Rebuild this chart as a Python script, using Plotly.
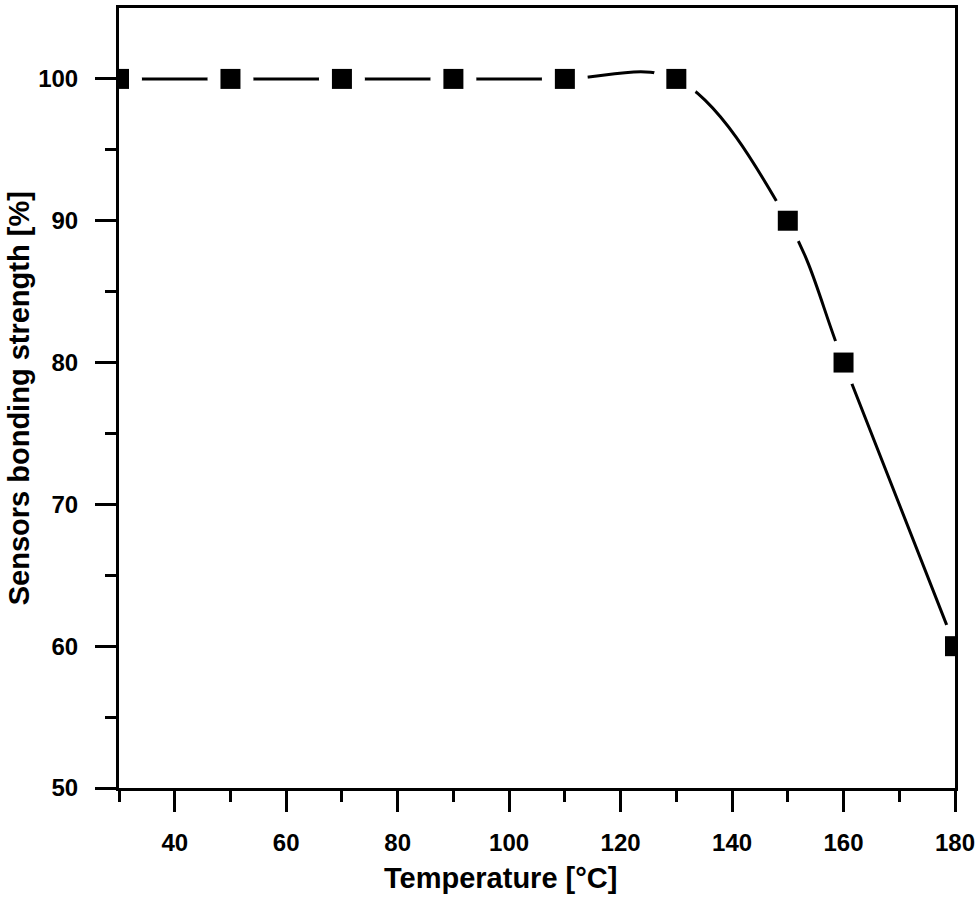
import plotly.graph_objects as go

temperature = [30, 50, 70, 90, 110, 130, 150, 160, 180]
strength = [100, 100, 100, 100, 100, 100, 90, 80, 60]

x_title = "Temperature [°C]"
y_title = "Sensors bonding strength [%]"

FONT = "Liberation Sans, Arial, sans-serif"

fig = go.Figure()
fig.add_trace(go.Scatter(
    x=temperature, y=strength, mode="lines",
    line=dict(color="black", width=3, shape="spline", smoothing=1),
    hoverinfo="skip", showlegend=False))
# white halo to create gaps in the line around markers
fig.add_trace(go.Scatter(
    x=temperature, y=strength, mode="markers",
    marker=dict(symbol="circle", size=46, color="white", line=dict(width=0)),
    hoverinfo="skip", showlegend=False))
fig.add_trace(go.Scatter(
    x=temperature, y=strength, mode="markers",
    marker=dict(symbol="square", size=20, color="black", line=dict(width=0)),
    showlegend=False))

axis_common = dict(
    showline=True, linecolor="black", linewidth=3, mirror=True,
    ticks="outside", ticklen=21, tickwidth=3, tickcolor="black",
    showgrid=False, zeroline=False,
    tickfont=dict(family=FONT, size=24, color="black", weight="bold"),
)

fig.update_xaxes(range=[30, 180], tickvals=[40, 60, 80, 100, 120, 140, 160, 180],
                 ticklabelstandoff=10,
                 minor=dict(ticks="outside", ticklen=11, tickwidth=3, tickcolor="black",
                            tickvals=[30, 50, 70, 90, 110, 130, 150, 170]),
                 **axis_common)
fig.update_yaxes(range=[50, 105], tickvals=[50, 60, 70, 80, 90, 100],
                 ticklabelstandoff=12,
                 minor=dict(ticks="outside", ticklen=11, tickwidth=3, tickcolor="black",
                            tickvals=[55, 65, 75, 85, 95]),
                 **axis_common)

fig.add_annotation(text=x_title, xref="paper", yref="paper", x=(501 - 119) / 838, y=-(878 - 788) / 784,
                   showarrow=False, xanchor="center", yanchor="middle",
                   font=dict(family=FONT, size=29, color="black", weight="bold"))
fig.add_annotation(text=y_title, xref="paper", yref="paper", x=-(119 - 19) / 838, y=0.5,
                   showarrow=False, xanchor="center", yanchor="middle", textangle=-90,
                   font=dict(family=FONT, size=29, color="black", weight="bold"))

fig.update_layout(
    width=980, height=898,
    margin=dict(l=119, r=23, t=5, b=110),
    paper_bgcolor="white", plot_bgcolor="white",
)

fig.write_html("out.html", config={"displayModeBar": False},
               post_script="document.body.style.margin='0';document.body.style.overflow='hidden';")
